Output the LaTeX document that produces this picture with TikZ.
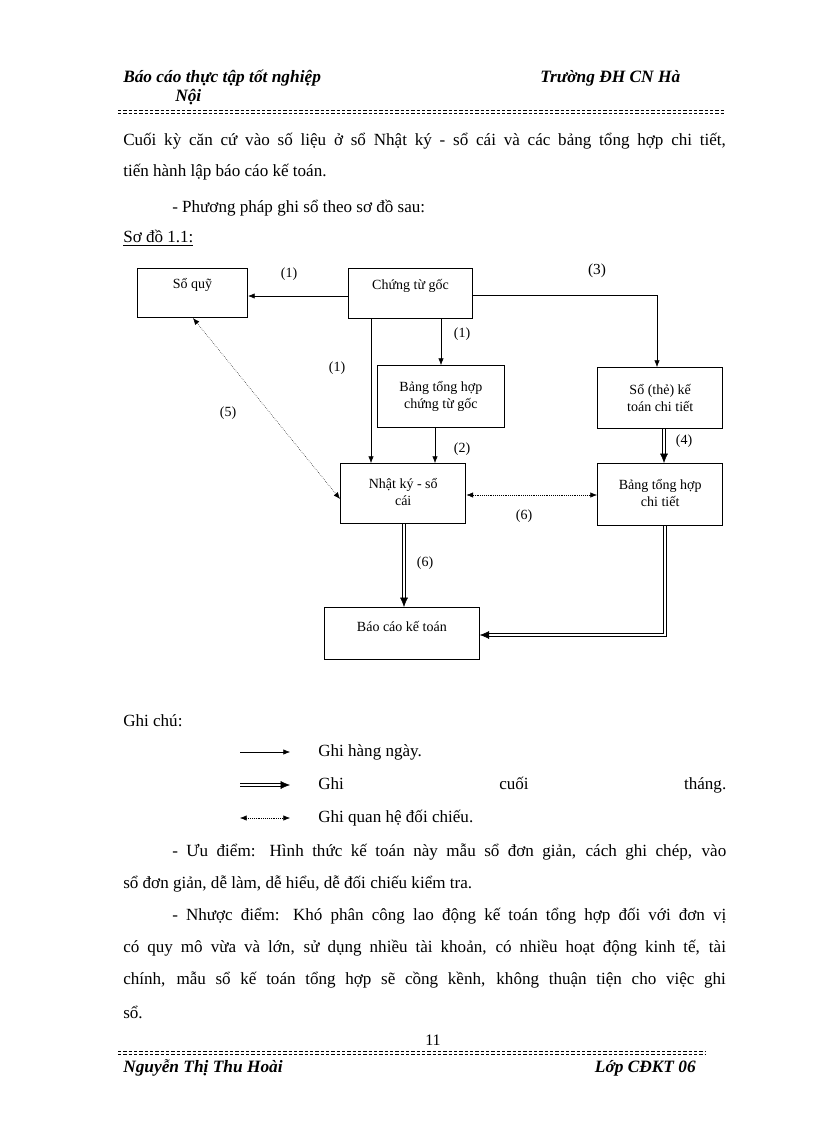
\documentclass[tikz,border=0pt]{standalone}
\usepackage{fontspec}
\setmainfont{Liberation Serif}
\usetikzlibrary{arrows.meta}
\begin{document}
\begin{tikzpicture}[x=0.75pt,y=-0.75pt,
  box/.style={draw,thick,inner sep=0pt,align=center,font=\fontsize{10.5}{12.5}\selectfont},
  lbl/.style={font=\fontsize{10.5}{12}\selectfont},
  ar/.style={draw,-{Latex[length=5pt,width=4pt]}},
  dar/.style={draw,double,double distance=1.6pt,-{Latex[length=7pt,width=6pt]}},
  dot/.style={draw,densely dotted,{Latex[length=5pt,width=4pt]}-{Latex[length=5pt,width=4pt]}},
  body/.style={anchor=west,inner sep=0pt,font=\fontsize{12.8}{15}\selectfont},
  jl/.style={body,text width=#1,align=justify,execute at begin node={\parfillskip=0pt}},
  hd/.style={anchor=west,inner sep=0pt,font=\fontsize{13}{15}\selectfont\bfseries\itshape}]
\useasboundingbox (0,0) rectangle (816,1123);
% header
\node[hd] (h1) at (123,78) {Báo cáo thực tập tốt nghiệp};
\node[hd] (h2) at (175,97) {Nội};
\node[hd] (h3) at (540,78) {Trường ĐH CN Hà};
\draw[dash pattern=on 2.5pt off 1.5pt,line width=0.6pt] (118,110) -- (726,110);
\draw[dash pattern=on 2.5pt off 1.5pt,line width=0.6pt] (118,113) -- (726,113);
% text
\node[jl=452pt] (t1) at (123,141) {Cuối kỳ căn cứ vào số liệu ở sổ Nhật ký - sổ cái và các bảng tổng hợp chi tiết,};
\node[body] (t2) at (123,172) {tiến hành lập báo cáo kế toán.};
\node[body] (t3) at (172,208) {- Phương pháp ghi sổ theo sơ đồ sau:};
\node[body] (t4) at (123,238) {\underline{Sơ đồ 1.1:}};
% boxes
\node[box, minimum width=82.5pt,minimum height=36.75pt,anchor=north west] (sq) at (137,268) {\raisebox{14pt}{Sổ quỹ}};
\node[box, minimum width=93pt,minimum height=37.5pt,anchor=north west] (ct) at (348,268) {\raisebox{14pt}{Chứng từ gốc}};
\node[box, minimum width=95pt,minimum height=46.5pt,anchor=north west] (bh) at (377,365) {Bảng tổng hợp\\chứng từ gốc};
\node[box, minimum width=94pt,minimum height=46pt,anchor=north west] (st) at (597,367) {Sổ (thẻ) kế\\toán chi tiết};
\node[box, minimum width=94pt,minimum height=45pt,anchor=north west] (nk) at (340,463) {\raisebox{4pt}{\begin{tabular}{@{}c@{}}Nhật ký - sổ\\cái\end{tabular}}};
\node[box, minimum width=94pt,minimum height=46.5pt,anchor=north west] (bc) at (597,463) {\raisebox{4pt}{\begin{tabular}{@{}c@{}}Bảng tổng hợp\\chi tiết\end{tabular}}};
\node[box, minimum width=116pt,minimum height=39pt,anchor=north west] (bk) at (324,607) {\raisebox{10pt}{Báo cáo kế toán}};
% connectors
\coordinate (c1) at (657,295);
\coordinate (c2) at (665,635);
\draw[ar] (ct.west |- 0,296) -- (sq.east |- 0,296);
\draw[ar] (ct.east |- 0,295) -- (c1) -- (c1 |- st.north);
\draw[ar] (ct.south -| 371,0) -- (nk.north -| 371,0);
\draw[ar] (ct.south -| 441,0) -- (bh.north -| 441,0);
\draw[ar] (bh.south -| 435,0) -- (nk.north -| 435,0);
\draw[dot] (sq.south -| 193,0) -- (nk.west |- 0,499);
\draw[dot] (nk.east |- 0,495) -- (bc.west |- 0,495);
\draw[dar] (st.south -| 664,0) -- (bc.north -| 664,0);
\draw[dar] (nk.south -| 404,0) -- (bk.north -| 404,0);
\draw[dar] (bc.south -| 665,0) -- (c2) -- (bk.east |- c2);
% labels
\node[lbl] (l1) at (289,274) {(1)};
\node[lbl,font=\fontsize{11.5}{13}\selectfont] (l3) at (597,271) {(3)};
\node[lbl] (l1b) at (462,334) {(1)};
\node[lbl] (l1c) at (337,368) {(1)};
\node[lbl] (l5) at (228,413) {(5)};
\node[lbl] (l2) at (462,449) {(2)};
\node[lbl] (l4) at (684,441) {(4)};
\node[lbl] (l6) at (524,516) {(6)};
\node[lbl] (l6b) at (425,563) {(6)};
% legend
\node[body] (g0) at (123,721) {Ghi chú:};
\coordinate (a1) at (240,752); \coordinate (a2) at (290,752);
\coordinate (b1) at (240,785); \coordinate (b2) at (290,785);
\coordinate (e1) at (240,818); \coordinate (e2) at (290,818);
\draw[ar] (a1) -- (a2);
\draw[dar] (b1) -- (b2);
\draw[dot] (e1) -- (e2);
\node[body] (g1) at (318,752) {Ghi hàng ngày.};
\node[jl=306pt] (g2) at (318,785) {Ghi \hfill cuối \hfill tháng.};
\node[body] (g3) at (318,818) {Ghi quan hệ đối chiếu.};
% paragraphs
\node[jl=415.5pt] (p1) at (172,852) {- Ưu điểm: Hình thức kế toán này mẫu sổ đơn giản, cách ghi chép, vào};
\node[body] (p2) at (123,884) {sổ đơn giản, dễ làm, dễ hiểu, dễ đối chiếu kiểm tra.};
\node[jl=415.5pt] (p3) at (172,916) {- Nhược điểm: Khó phân công lao động kế toán tổng hợp đối với đơn vị};
\node[jl=452pt] (p4) at (123,948) {có quy mô vừa và lớn, sử dụng nhiều tài khoản, có nhiều hoạt động kinh tế, tài};
\node[jl=452pt] (p5) at (123,980) {chính, mẫu sổ kế toán tổng hợp sẽ cồng kềnh, không thuận tiện cho việc ghi};
\node[body] (p6) at (123,1012) {sổ.};
% footer
\node[font=\fontsize{12}{14}\selectfont] (pg) at (433,1040) {11};
\draw[dash pattern=on 2.5pt off 1.5pt,line width=0.6pt] (118,1051) -- (706,1051);
\draw[dash pattern=on 2.5pt off 1.5pt,line width=0.6pt] (118,1054) -- (706,1054);
\node[hd] (f1) at (123,1068) {Nguyễn Thị Thu Hoài};
\node[hd,anchor=east] (f2) at (696,1068) {Lớp CĐKT 06};
\end{tikzpicture}
\end{document}
